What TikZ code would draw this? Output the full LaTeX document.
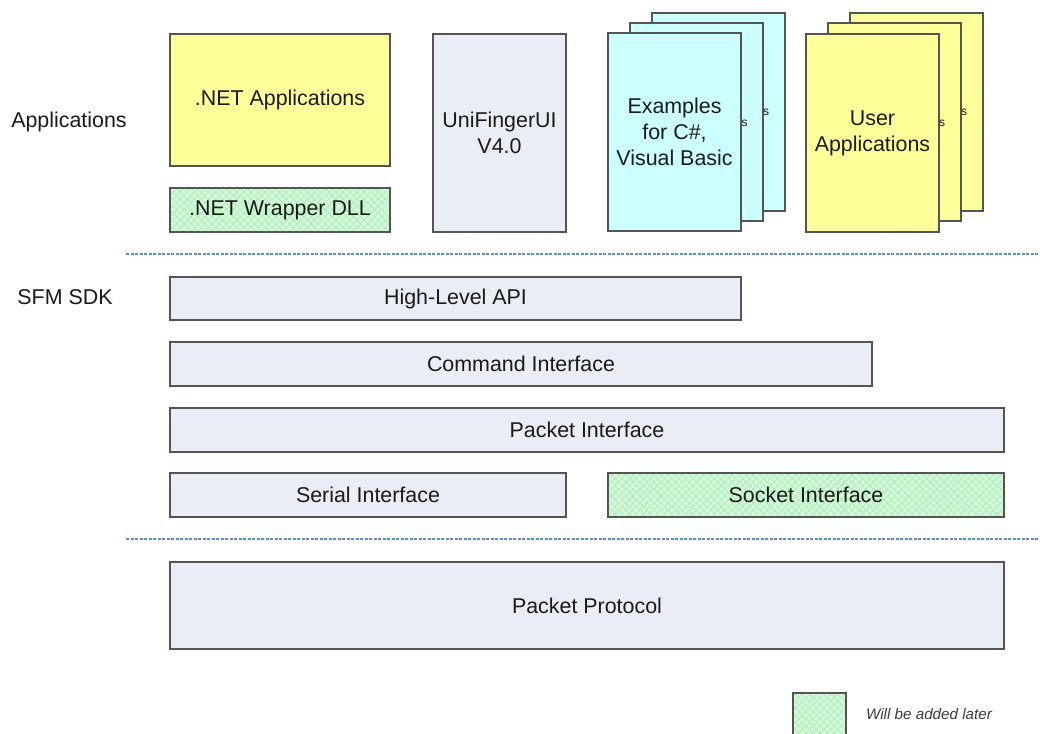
\documentclass[tikz,border=0pt]{standalone}
\usepackage{fontspec}
\setmainfont{Liberation Sans}
\usetikzlibrary{patterns.meta}
\definecolor{bordercol}{HTML}{555555}
\definecolor{layerfill}{HTML}{E9EDF6}
\definecolor{yellowfill}{HTML}{FFFF99}
\definecolor{cyanfill}{HTML}{CCFFFF}
\definecolor{greenfill}{HTML}{CCFFCC}
\definecolor{hatchline}{HTML}{B4D2DA}
\definecolor{dashblue}{HTML}{5B8ED6}
\definecolor{textcol}{HTML}{1A1A1A}
\begin{document}
\begin{tikzpicture}[x=1pt,y=-1pt,
  box/.style={draw=bordercol, line width=1.2pt, inner sep=0pt, outer sep=0pt,
    align=center, text=textcol, font=\fontsize{21.4}{26}\selectfont},
  layerbox/.style={box, fill=layerfill},
  yellowbox/.style={box, fill=yellowfill},
  cyanbox/.style={box, fill=cyanfill},
  hatchbox/.style={box, fill=greenfill,
    postaction={pattern={Lines[angle=45,distance=5pt,line width=0.4pt]}, pattern color=hatchline},
    postaction={pattern={Lines[angle=-45,distance=5pt,line width=0.4pt]}, pattern color=hatchline},
    postaction={draw=bordercol, line width=1.2pt}},
  lbl/.style={text=textcol, font=\fontsize{21.4}{26}\selectfont, inner sep=0pt},
  peek/.style={text=textcol, font=\fontsize{12}{14}\selectfont, inner sep=0pt},
  sep/.style={draw=dashblue, line width=1.5pt, dash pattern=on 3pt off 1.5pt}
]
\clip (0,0) rectangle (1040,733);
\fill[white] (0,0) rectangle (1040,733);

% section labels
\node[lbl] (applbl) at (69,122) {Applications};
\node[lbl] (sdklbl) at (65,297) {SFM SDK};

% applications row
\node[yellowbox, minimum width=220pt, minimum height=132pt] (netapp) at (280,100) {.NET Applications};
\node[hatchbox, minimum width=220pt, minimum height=44pt] (wrapper) at (280,210) {.NET Wrapper DLL};
\node[layerbox, minimum width=133pt, minimum height=198pt] (unifinger) at (499.5,133) {UniFingerUI\\V4.0};

% examples stack
\node[cyanbox, minimum width=133pt, minimum height=198pt] (exback) at (718.5,112) {};
\node[peek] (exbacks) at (766,112) {s};
\node[cyanbox, minimum width=133pt, minimum height=198pt] (exmid) at (696.5,122) {};
\node[peek] (exmids) at (744.5,123) {s};
\node[cyanbox, minimum width=133pt, minimum height=198pt] (exfront) at (674.5,132) {Examples\\for C\#,\\Visual Basic};

% user applications stack
\node[yellowbox, minimum width=133pt, minimum height=198pt] (uaback) at (916.5,112) {};
\node[peek] (uabacks) at (964,112) {s};
\node[yellowbox, minimum width=133pt, minimum height=198pt] (uamid) at (894.5,122) {};
\node[peek] (uamids) at (942,123) {s};
\node[yellowbox, minimum width=133pt, minimum height=198pt] (uafront) at (872.5,133) {User\\Applications};

% separators
\coordinate (s1a) at (126,254);
\coordinate (s1b) at (1040,254);
\coordinate (s2a) at (126,539);
\coordinate (s2b) at (1040,539);
\draw[sep] (s1a) -- (s1b);
\draw[sep] (s2a) -- (s2b);

% SDK layers
\node[layerbox, minimum width=571pt, minimum height=43pt] (hlapi) at (455.5,298.5) {High-Level API};
\node[layerbox, minimum width=702pt, minimum height=44pt] (cmd) at (521,364) {Command Interface};
\node[layerbox, minimum width=834pt, minimum height=44pt] (pkt) at (587,430) {Packet Interface};
\node[layerbox, minimum width=396pt, minimum height=44pt] (serial) at (368,495) {Serial Interface};
\node[hatchbox, minimum width=396pt, minimum height=44pt] (socket) at (806,495) {Socket Interface};

% protocol
\node[layerbox, minimum width=834pt, minimum height=87pt] (proto) at (587,605.5) {Packet Protocol};

% legend
\node[hatchbox, minimum width=53pt, minimum height=67pt] (legend) at (819.5,726.5) {};
\node[text=textcol!85, font=\fontsize{15.2}{18}\selectfont\itshape, inner sep=0pt] (legendtxt) at (929,714) {Will be added later};
\end{tikzpicture}
\end{document}
